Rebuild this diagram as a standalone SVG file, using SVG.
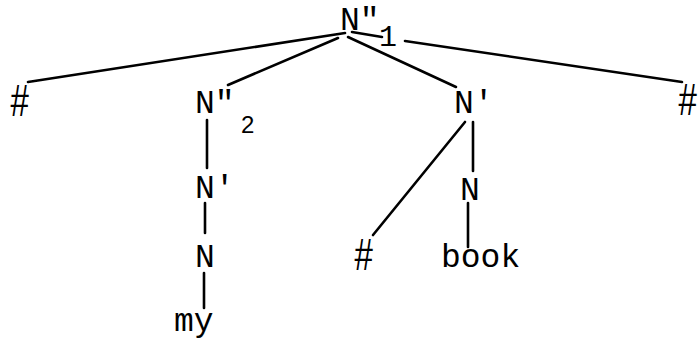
<svg xmlns="http://www.w3.org/2000/svg" width="698" height="341" viewBox="0 0 698 341">
<style>
.t{font-family:"Liberation Mono","Courier New",monospace;font-size:33px;fill:#000}
.s{font-family:"Liberation Sans",Arial,sans-serif;font-size:24px;fill:#000}
.h{font-family:"Liberation Sans",Arial,sans-serif;font-style:italic;font-size:44px;fill:#000}
.e line{stroke:#000;stroke-width:2.6;stroke-linecap:round}
</style>
<rect width="698" height="341" fill="#fff"/>
<g class="e" id="connectors">
<line x1="345" y1="33" x2="28" y2="82"/>
<line x1="338" y1="38" x2="228" y2="85"/>
<line x1="348" y1="37" x2="456" y2="87"/>
<line x1="352" y1="32" x2="382" y2="37"/>
<line x1="405" y1="41" x2="682" y2="82"/>
<line x1="207" y1="120" x2="207" y2="168"/>
<line x1="205" y1="203" x2="205" y2="233"/>
<line x1="204" y1="273" x2="204" y2="308"/>
<line x1="465" y1="122" x2="373" y2="235"/>
<line x1="473" y1="122" x2="473" y2="171"/>
<line x1="468" y1="203" x2="468" y2="247"/>
</g>
<g id="n1"><text class="t" x="340" y="30">N"</text><text class="t" x="379" y="46" style="font-size:30px">1</text></g>
<g id="hashL"><text class="h" transform="translate(10,116) scale(0.75,1)">#</text></g>
<g id="n2"><text class="t" x="195" y="113">N"</text><text class="s" x="241" y="133">2</text></g>
<g id="nbarL"><text class="t" x="195" y="198">N'</text></g>
<g id="nL"><text class="t" x="195" y="267">N</text></g>
<g id="my"><text class="t" x="174" y="331">my</text></g>
<g id="nbarR"><text class="t" x="454" y="113">N'</text></g>
<g id="hashR"><text class="h" transform="translate(678,115) scale(0.75,1)">#</text></g>
<g id="hashM"><text class="h" transform="translate(354,270) scale(0.75,1)">#</text></g>
<g id="nR"><text class="t" x="460" y="200">N</text></g>
<g id="book"><text class="t" x="441" y="267">book</text></g>
</svg>
